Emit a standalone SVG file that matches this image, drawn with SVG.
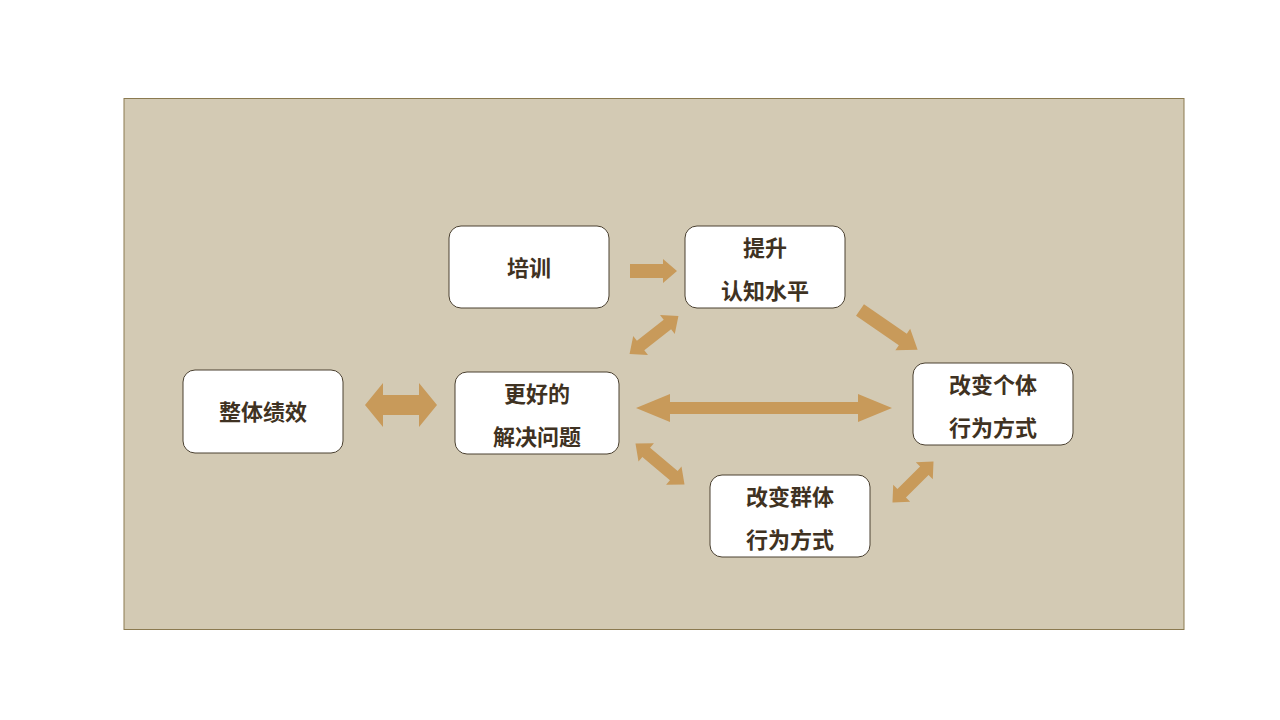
<svg xmlns="http://www.w3.org/2000/svg" width="1280" height="720" viewBox="0 0 1280 720">
<style>
.b{fill:#fff;stroke:#4a4030;stroke-width:1}
.t{font-family:"Noto Sans CJK SC","Liberation Sans",sans-serif;font-weight:bold;font-size:22px;fill:#3f3222;text-anchor:middle}
.a{fill:#c89a5a}
</style>
<rect width="1280" height="720" fill="#fff"/>
<rect x="124" y="98.500" width="1060" height="531" fill="#d3cab4" stroke="#8b7a50"/>
<g id="n1"><rect class="b" x="449" y="226" width="160" height="82" rx="12"/><text class="t" x="529" y="276">培训</text></g>
<g id="n2"><rect class="b" x="685" y="226" width="160" height="82" rx="12"/><text class="t" x="765" y="256">提升</text><text class="t" x="765" y="299">认知水平</text></g>
<g id="n3"><rect class="b" x="183" y="370" width="160" height="83" rx="12"/><text class="t" x="263" y="420">整体绩效</text></g>
<g id="n4"><rect class="b" x="455" y="372" width="164" height="82" rx="12"/><text class="t" x="537" y="402">更好的</text><text class="t" x="537" y="445">解决问题</text></g>
<g id="n5"><rect class="b" x="913" y="363" width="160" height="82" rx="12"/><text class="t" x="993" y="393">改变个体</text><text class="t" x="993" y="436">行为方式</text></g>
<g id="n6"><rect class="b" x="710" y="475" width="160" height="82" rx="12"/><text class="t" x="790" y="505">改变群体</text><text class="t" x="790" y="548">行为方式</text></g>
<g id="connectors">
<polygon class="a" transform="translate(630,271)" points="0,-7 33,-7 33,-12 47,0 33,12 33,7 0,7"/>
<polygon class="a" transform="translate(860,310) rotate(34.6)" points="0,-7 52,-7 52,-13 70,0 52,13 52,7 0,7"/>
<polygon class="a" transform="translate(654,335) rotate(-38)" points="-31,0 -17,-12 -17,-6 17,-6 17,-12 31,0 17,12 17,6 -17,6 -17,12"/>
<polygon class="a" transform="translate(401,405)" points="-36,0 -18,-22 -18,-10 18,-10 18,-22 36,0 18,22 18,10 -18,10 -18,22"/>
<polygon class="a" transform="translate(764,408)" points="-128,0 -94,-14 -94,-6 94,-6 94,-14 128,0 94,14 94,6 -94,6 -94,14"/>
<polygon class="a" transform="translate(660,464) rotate(40)" points="-32,0 -18,-12 -18,-6 18,-6 18,-12 32,0 18,12 18,6 -18,6 -18,12"/>
<polygon class="a" transform="translate(913,482) rotate(-45)" points="-29,0 -16,-12 -16,-6 16,-6 16,-12 29,0 16,12 16,6 -16,6 -16,12"/>
</g>
</svg>
